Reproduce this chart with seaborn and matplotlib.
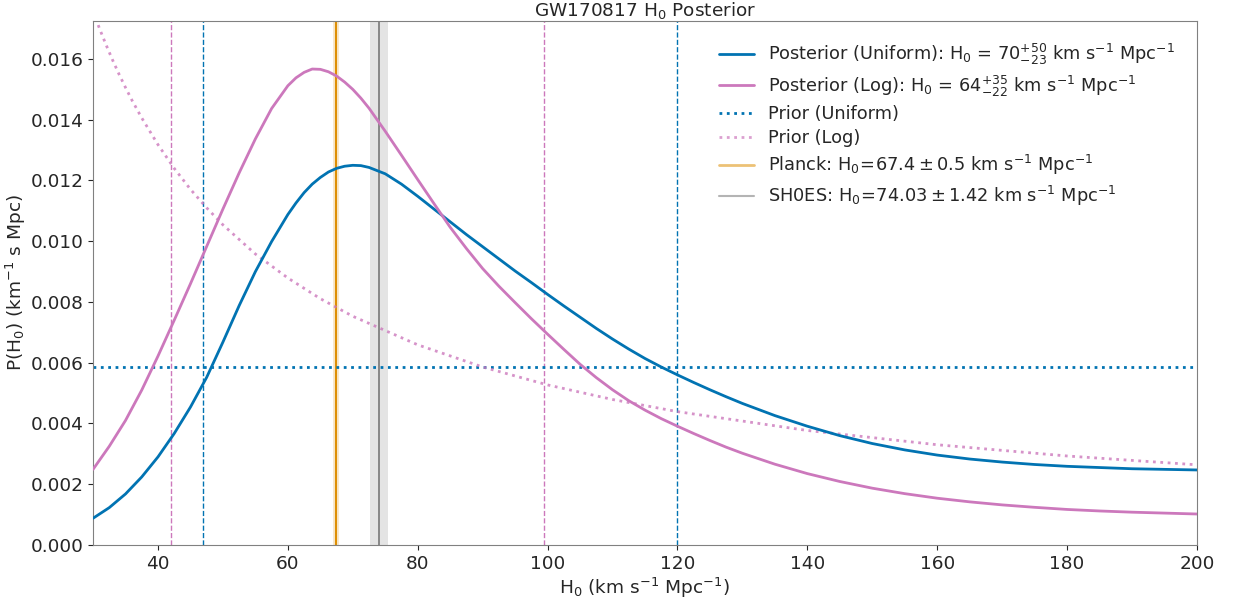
import matplotlib
matplotlib.use("Agg")
import matplotlib.pyplot as plt
from matplotlib.lines import Line2D
import seaborn as sns
import pandas as pd

# ---- data ----
h_post = [30, 32.5, 35, 37.5, 40, 42.5, 45, 47.5, 50, 52.5, 55, 57.5,
          60, 61.25, 62.5, 63.75, 65, 66.25, 67.5, 68.75, 70, 71.25, 72.5,
          75, 77.5, 80, 82.5, 85, 87.5, 90, 92.5, 95, 97.5, 100, 102.5, 105, 107.5,
          110, 112.5, 115, 117.5, 120, 122.5, 125, 127.5, 130,
          135, 140, 145, 150, 155, 160, 165, 170, 175, 180, 185, 190, 195, 200]
post_uniform = [0.00088, 0.00123, 0.00168, 0.00224, 0.00290, 0.00367, 0.00454, 0.00552,
                0.00668, 0.00788, 0.00900, 0.00999,
                0.01088, 0.01126, 0.01160, 0.01188, 0.01210, 0.01228, 0.01240, 0.01247,
                0.01250, 0.01249, 0.01243,
                0.01222, 0.01188, 0.01148, 0.01106, 0.01064, 0.01022, 0.00982, 0.00942,
                0.00902, 0.00864, 0.00825, 0.00787, 0.00750, 0.00713, 0.00678, 0.00645,
                0.00614, 0.00586, 0.00560, 0.00535, 0.00511, 0.00488, 0.00466,
                0.00426, 0.00391, 0.00360, 0.00334, 0.00313, 0.00296, 0.00283, 0.00273,
                0.00265, 0.00259, 0.00255, 0.00251, 0.00249, 0.00247]
post_log = [0.00249, 0.00325, 0.00410, 0.00510, 0.00622, 0.00740, 0.00860, 0.00983,
            0.01106, 0.01225, 0.01337, 0.01437,
            0.01512, 0.01538, 0.01556, 0.01567, 0.01566, 0.01558, 0.01544, 0.01524,
            0.01500, 0.01471, 0.01438,
            0.01362, 0.01283, 0.01203, 0.01124, 0.01046, 0.00976, 0.00910, 0.00852,
            0.00798, 0.00745, 0.00694, 0.00644, 0.00595, 0.00551, 0.00511, 0.00475,
            0.00444, 0.00416, 0.00391, 0.00367, 0.00344, 0.00322, 0.00302,
            0.00266, 0.00235, 0.00209, 0.00187, 0.00169, 0.00154, 0.00142, 0.00132,
            0.00124, 0.00117, 0.00112, 0.00108, 0.00105, 0.00102]
h_prior_log = [30, 31, 32, 33, 34, 35, 36, 37.5, 40, 42.5, 45, 47.5, 50, 55, 60, 65, 70,
               80, 90, 100, 110, 120, 140, 160, 180, 200]
prior_log = [0.01757, 0.01700, 0.01647, 0.01597, 0.01550, 0.01506, 0.01464, 0.01406,
             0.01318, 0.01240, 0.01171, 0.01110, 0.01054, 0.00958, 0.00879, 0.00811,
             0.00753, 0.00659, 0.00586, 0.00527, 0.00479, 0.00439, 0.00377, 0.00330,
             0.00293, 0.00264]
h_prior_uniform = [30, 200]
prior_uniform = [0.00585, 0.00585]

ci_uniform = [47, 120]
ci_log = [42, 99.5]
planck = [67.4, 0.5]
shoes = [74.03, 1.42]

labels = [
    r"Posterior (Uniform): H$_0$ = $70^{+50}_{-23}$ km s$^{-1}$ Mpc$^{-1}$",
    r"Posterior (Log): H$_0$ = $64^{+35}_{-22}$ km s$^{-1}$ Mpc$^{-1}$",
    "Prior (Uniform)",
    "Prior (Log)",
    r"Planck: H$_0\!=\!67.4\pm0.5$ km s$^{-1}$ Mpc$^{-1}$",
    r"SH0ES: H$_0\!=\!74.03\pm1.42$ km s$^{-1}$ Mpc$^{-1}$",
]

# ---- style ----
sns.set_style("ticks", {"axes.edgecolor": "0.5"})
plt.rcParams["font.family"] = ["DejaVu Sans"]
plt.rcParams["font.size"] = 13.3
pal = sns.color_palette("colorblind")
c_blue, c_orange, c_pink, c_gray = pal[0], pal[1], pal[4], pal[7]

fig = plt.figure(figsize=(12.34, 6.01), dpi=100)
ax = fig.add_axes([0.0754, 0.0932, 0.8946, 0.8718])

df_post = pd.DataFrame({"H0": h_post, "uni": post_uniform, "log": post_log})
df_pl = pd.DataFrame({"H0": h_prior_log, "p": prior_log})
df_pu = pd.DataFrame({"H0": h_prior_uniform, "p": prior_uniform})

# bands and reference lines
ax.axvspan(planck[0] - planck[1], planck[0] + planck[1], color=c_orange, alpha=0.2, lw=0, zorder=0)
ax.axvspan(shoes[0] - shoes[1], shoes[0] + shoes[1], color=c_gray, alpha=0.25, lw=0, zorder=0)
ax.axvline(planck[0], color=c_orange, lw=1.5, zorder=1)
ax.axvline(shoes[0], color="0.5", lw=1.3, zorder=1)
for v in ci_uniform:
    ax.axvline(v, color=c_blue, ls="--", lw=1.0, zorder=1)
for v in ci_log:
    ax.axvline(v, color=c_pink, ls="--", lw=1.0, zorder=1)

sns.lineplot(data=df_post, x="H0", y="uni", ax=ax, color=c_blue, lw=2.0, zorder=3)
sns.lineplot(data=df_post, x="H0", y="log", ax=ax, color=c_pink, lw=2.0, zorder=3)
sns.lineplot(data=df_pu, x="H0", y="p", ax=ax, color=c_blue, lw=2.0, ls=":", zorder=2)
sns.lineplot(data=df_pl, x="H0", y="p", ax=ax, color=c_pink, lw=2.0, ls=":", alpha=0.8, zorder=2)

handles = [
    Line2D([], [], color=c_blue, lw=2.0),
    Line2D([], [], color=c_pink, lw=2.0),
    Line2D([], [], color=c_blue, lw=2.0, ls=":"),
    Line2D([], [], color=c_pink, lw=2.0, ls=":", alpha=0.7),
    Line2D([], [], color=c_orange, lw=2.0, alpha=0.55),
    Line2D([], [], color=c_gray, lw=1.5, alpha=0.7),
]
ax.legend(handles, labels, loc="upper right", frameon=False, fontsize=12.8,
          bbox_to_anchor=(0.995, 0.99), handlelength=2.0, handletextpad=0.8,
          labelspacing=0.35)

ax.set_xlim(30, 200)
ax.set_ylim(0, 0.01725)
ax.set_yticks([0.000, 0.002, 0.004, 0.006, 0.008, 0.010, 0.012, 0.014, 0.016])
ax.yaxis.set_major_formatter(matplotlib.ticker.FormatStrFormatter("%.3f"))
ax.tick_params(labelsize=13.3)
ax.set_xlabel(r"H$_0$ (km s$^{-1}$ Mpc$^{-1}$)", fontsize=13.3, labelpad=2)
ax.set_ylabel(r"P(H$_0$) (km$^{-1}$ s Mpc)", fontsize=13.3, labelpad=2)
ax.set_title(r"GW170817 H$_0$ Posterior", fontsize=13.3, pad=3)

fig.savefig("out.png", dpi=100)
